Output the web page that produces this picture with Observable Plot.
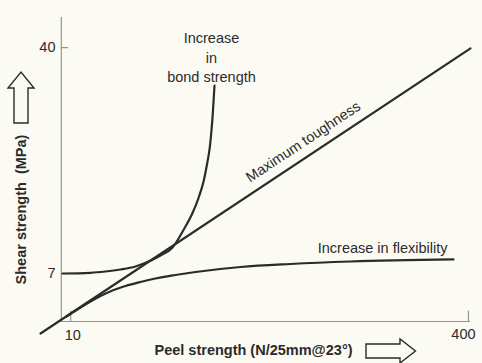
<!DOCTYPE html>
<html><head><meta charset="utf-8">
<script src="https://cdn.jsdelivr.net/npm/d3@7"></script>
<script src="https://cdn.jsdelivr.net/npm/@observablehq/plot@0.6"></script>
<style>
body{margin:0;background:#fbfbf4;}
#chart svg{display:block;background:#fbfbf4;}
</style>
</head><body><div id="chart"></div>
<script>
// ---- data (schematic values) ----
const xTicks = [10, 400];
const yTicks = [7, 40];
const xTitle = "Peel strength (N/25mm@23°)";
const yTitle = "Shear strength\u00a0\u00a0(MPa)";

const toughnessX = [-19.6, 402];
const toughnessY = [-1.75, 39.9];
const toughnessLabel = "Maximum toughness";

const bondX = [1.96, 29.4, 44.1, 58.8, 73.5, 86.3, 98.0, 109.8, 120.3, 129.1, 135.6, 140.5, 143.8, 146.4, 149.3, 151.0];
const bondY = [7.01, 7.11, 7.30, 7.59, 8.03, 8.76, 9.64, 10.81, 13.29, 15.73, 18.15, 20.59, 23.08, 25.46, 30.33, 34.47];
const bondLabel = "Increase\nin\nbond strength";

const flexX = [5.9, 19.6, 29.4, 39.2, 51.0, 63.7, 78.4, 93.1, 112.7, 132.4, 176.5, 225.5, 284.3, 385.3];
const flexY = [0.73, 2.04, 2.92, 3.72, 4.53, 5.18, 5.77, 6.28, 6.79, 7.23, 7.96, 8.40, 8.76, 9.06];
const flexLabel = "Increase in flexibility";

// ---- build tables ----
const zip = (xs, ys) => xs.map((x, i) => ({x, y: ys[i]}));
const toughness = zip(toughnessX, toughnessY);
const bond = zip(bondX, bondY);
const flex = zip(flexX, flexY);
const xMax = 402, yMax = 44.4;
const tLabelX = 240;
const tLabelY = toughnessY[0] + (tLabelX - toughnessX[0]) / (toughnessX[1] - toughnessX[0]) * (toughnessY[1] - toughnessY[0]);

const ink = "#2b2b2b";
const axisColor = "#959595";
const font = "'Liberation Sans', Arial, Helvetica, sans-serif";
const fs = 14.5;

const chart = Plot.plot({
  width: 482,
  height: 363,
  marginLeft: 60,
  marginRight: 12,
  marginTop: 17,
  marginBottom: 42,
  style: {fontFamily: font, background: "#fbfbf4", color: ink, overflow: "visible"},
  x: {domain: [0, xMax], axis: null},
  y: {domain: [0, yMax], axis: null},
  marks: [
    // axes
    Plot.ruleY([0], {x1: 0, x2: xMax, stroke: axisColor, strokeWidth: 1.2}),
    Plot.ruleX([0.8], {y1: 0, y2: yMax, stroke: axisColor, strokeWidth: 1.2}),
    Plot.ruleY(yTicks, {x1: 0.8, x2: 8, stroke: axisColor, strokeWidth: 1.2}),
    Plot.ruleX(xTicks, {y1: 0, y2: 1.5, stroke: axisColor, strokeWidth: 1.2}),
    Plot.text(yTicks, {x: 0, y: d => d, text: d => String(d), textAnchor: "end", dx: -5, fontSize: fs, fill: ink}),
    Plot.text(xTicks.slice(0, 1), {x: d => d, y: 0, text: d => String(d), dy: 14, dx: 2, fontSize: fs, fill: ink}),
    Plot.text(xTicks.slice(1), {x: d => d, y: 0, text: d => String(d), dy: 13, dx: -5, fontSize: fs, fill: ink}),
    // curves
    Plot.line(flex, {x: "x", y: "y", curve: "monotone-x", stroke: ink, strokeWidth: 2.2}),
    Plot.line(bond, {x: "x", y: "y", curve: "monotone-x", stroke: ink, strokeWidth: 2.2}),
    Plot.line(toughness, {x: "x", y: "y", stroke: ink, strokeWidth: 2.2}),
    // labels
    Plot.text([flex[flex.length - 1]], {x: "x", y: "y", text: () => flexLabel, textAnchor: "end", dx: -6, dy: -11, fontSize: fs, fill: ink}),
    Plot.text([bond[bond.length - 1]], {x: "x", y: "y", text: () => bondLabel, lineAnchor: "bottom", lineHeight: 1.35, dx: -3, dy: -3, fontSize: fs, fill: ink}),
    Plot.text([{x: tLabelX, y: tLabelY}], {x: "x", y: "y", text: () => toughnessLabel, rotate: -33.5, dx: -2, dy: -16, fontSize: fs, fill: ink}),
    // axis titles
    Plot.text([xTitle], {frameAnchor: "bottom", text: d => d, textAnchor: "middle", lineAnchor: "middle", dx: -12, dy: 29, fontSize: fs, fontWeight: "bold", fill: ink}),
    Plot.text([yTitle], {frameAnchor: "left", text: d => d, rotate: -90, textAnchor: "middle", lineAnchor: "middle", dx: -39, dy: 40, fontSize: fs, fontWeight: "bold", fill: ink})
  ]
});
document.getElementById("chart").appendChild(chart);

// outlined block arrows next to the axis titles
const svg = d3.select(chart);
const arrowStyle = g => g.attr("fill", "none").attr("stroke", ink).attr("stroke-width", 1.4).attr("stroke-linejoin", "miter");
// right arrow (x)
{
  const x0 = 366, x1 = 400, x2 = 415.5, cy = 351, s = 7, h = 12;
  svg.append("path").attr("d",
    `M${x0},${cy - s}L${x1},${cy - s}L${x1},${cy - h}L${x2},${cy}L${x1},${cy + h}L${x1},${cy + s}L${x0},${cy + s}Z`).call(arrowStyle);
}
// up arrow (y)
{
  const y0 = 123, y1 = 88, y2 = 72, cx = 21, s = 7, h = 13;
  svg.append("path").attr("d",
    `M${cx - s},${y0}L${cx - s},${y1}L${cx - h},${y1}L${cx},${y2}L${cx + h},${y1}L${cx + s},${y1}L${cx + s},${y0}Z`).call(arrowStyle);
}
</script>
</body></html>
